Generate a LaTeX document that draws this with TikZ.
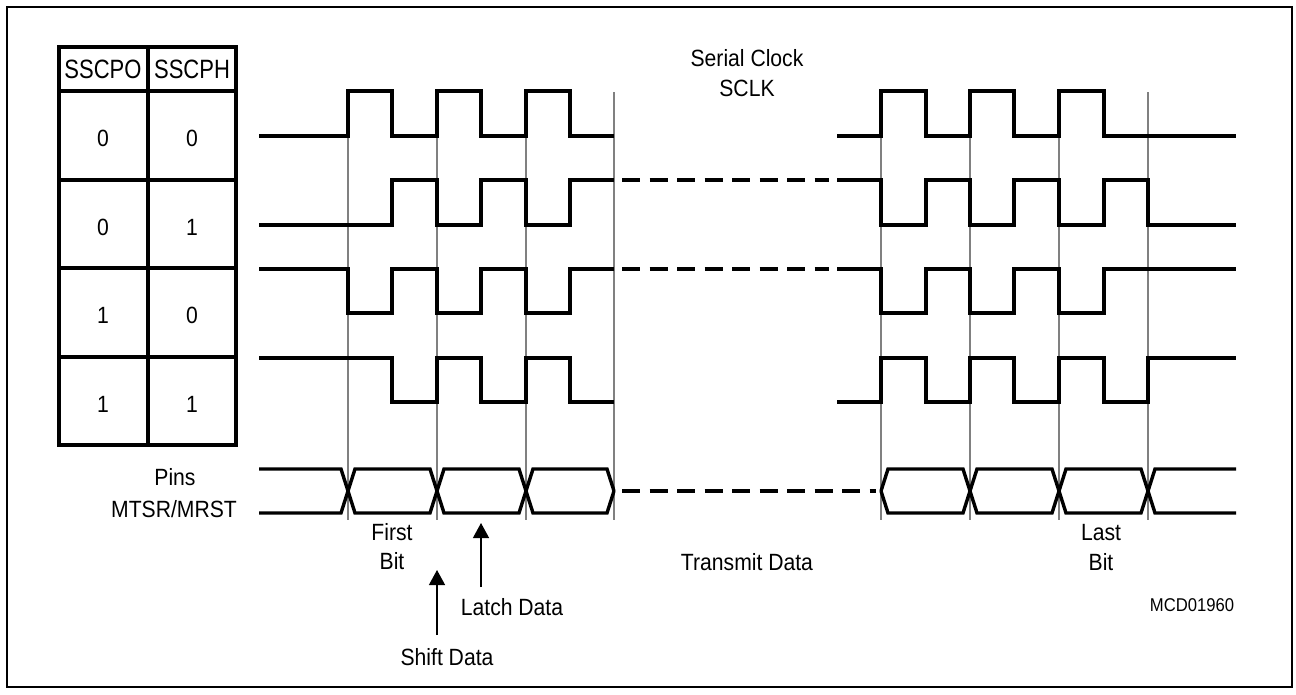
\documentclass[tikz,border=0pt]{standalone}
\usepackage{fontspec}
\setmainfont{Liberation Sans}[FakeStretch=0.9]
\newfontfamily\hdrfont{Liberation Sans}[FakeStretch=0.83]
\usetikzlibrary{arrows.meta}
\definecolor{gridgray}{RGB}{128,128,128}
\tikzset{
  lbl/.style={font=\fontsize{23.5}{30}\selectfont, inner sep=0pt, anchor=base},
  small/.style={font=\fontsize{18.5}{22}\selectfont, inner sep=0pt, anchor=base},
  hdr/.style={font=\hdrfont\fontsize{26.5}{30}\selectfont, inner sep=0pt, anchor=base},
  wave/.style={line width=3.4pt, line join=miter},
  dashwave/.style={line width=3.4pt, dash pattern=on 18pt off 9.5pt},
  tbl/.style={line width=3.8pt},
  frame/.style={line width=2.8pt},
  grid/.style={gridgray, line width=1.3pt},
  ptr/.style={line width=1.3pt, -{Triangle[length=15pt,width=16pt]}}
}
\begin{document}
\begin{tikzpicture}[x=1pt,y=-1pt]
\useasboundingbox (0,0) rectangle (1296,694);
\fill[white] (0,0) rectangle (1296,694);
\draw[frame] (7,7) rectangle (1292,687);

% grey timing lines
\foreach \gx in {348,437,526,614,881,970,1059,1148}
  \draw[grid] (\gx,92) -- (\gx,520);

% table
\draw[tbl] (59,47) rectangle (236,445);
\draw[tbl] (148,47) -- (148,445);
\foreach \ty in {91,180,268,357}
  \draw[tbl] (59,\ty) -- (236,\ty);
\node[hdr] (hpo) at (103,78) {SSCPO};
\node[hdr] (hph) at (192,78) {SSCPH};
\node[lbl] (r1a) at (103,146) {0};
\node[lbl] (r1b) at (192,146) {0};
\node[lbl] (r2a) at (103,235) {0};
\node[lbl] (r2b) at (192,235) {1};
\node[lbl] (r3a) at (103,323) {1};
\node[lbl] (r3b) at (192,323) {0};
\node[lbl] (r4a) at (103,412) {1};
\node[lbl] (r4b) at (192,412) {1};

% waveform 1 (0,0)
\draw[wave] (259,136) -| (348,91) -| (392,136) -| (437,91) -| (481,136) -| (526,91) -| (570,136) -- (614,136);
\draw[wave] (837,136) -| (881,91) -| (926,136) -| (970,91) -| (1014,136) -| (1059,91) -| (1104,136) -- (1236,136);
% waveform 2 (0,1)
\draw[wave] (259,225) -| (392,180) -| (437,225) -| (481,180) -| (526,225) -| (570,180) -- (614,180);
\draw[dashwave] (622,180) -- (829,180);
\draw[wave] (837,180) -| (881,225) -| (926,180) -| (970,225) -| (1014,180) -| (1059,225) -| (1104,180) -| (1148,225) -- (1236,225);
% waveform 3 (1,0)
\draw[wave] (259,269) -| (348,313) -| (392,269) -| (437,313) -| (481,269) -| (526,313) -| (570,269) -- (614,269);
\draw[dashwave] (622,269) -- (829,269);
\draw[wave] (837,269) -| (881,313) -| (926,269) -| (970,313) -| (1014,269) -| (1059,313) -| (1104,269) -- (1236,269);
% waveform 4 (1,1)
\draw[wave] (259,358) -| (392,402) -| (437,358) -| (481,402) -| (526,358) -| (570,402) -- (614,402);
\draw[wave] (837,402) -| (881,358) -| (926,402) -| (970,358) -| (1014,402) -| (1059,358) -| (1104,402) -| (1148,358) -- (1236,358);

% data bus
\draw[wave] (259,469) -- (341,469) -- (355,513) -- (430,513) -- (444,469) -- (519,469) -- (533,513) -- (607,513) -- (614,491);
\draw[wave] (259,513) -- (341,513) -- (355,469) -- (430,469) -- (444,513) -- (519,513) -- (533,469) -- (607,469) -- (614,491);
\draw[dashwave] (622,491) -- (876,491);
\draw[wave] (881,491) -- (888,469) -- (963,469) -- (977,513) -- (1052,513) -- (1066,469) -- (1141,469) -- (1155,513) -- (1236,513);
\draw[wave] (881,491) -- (888,513) -- (963,513) -- (977,469) -- (1052,469) -- (1066,513) -- (1141,513) -- (1155,469) -- (1236,469);

% labels
\node[lbl] (sc1) at (747,66) {Serial Clock};
\node[lbl] (sc2) at (747,96) {SCLK};
\node[lbl] (pin1) at (175,485) {Pins};
\node[lbl] (pin2) at (174,517) {MTSR/MRST};
\node[lbl] (fb1) at (392,540) {First};
\node[lbl] (fb2) at (392,569) {Bit};
\node[lbl] (tx) at (747,570) {Transmit Data};
\node[lbl] (lb1) at (1101,540) {Last};
\node[lbl] (lb2) at (1101,570) {Bit};
\node[small] (mcd) at (1192,611) {MCD01960};
\node[lbl] (latch) at (512,615) {Latch Data};
\node[lbl] (shift) at (447,665) {Shift Data};

% pointer arrows
\coordinate (shTail) at (437,635);
\coordinate (shTip) at (437,570);
\coordinate (laTail) at (481,587);
\coordinate (laTip) at (481,523);
\draw[ptr] (shTail) -- (shTip);
\draw[ptr] (laTail) -- (laTip);
\end{tikzpicture}
\end{document}
